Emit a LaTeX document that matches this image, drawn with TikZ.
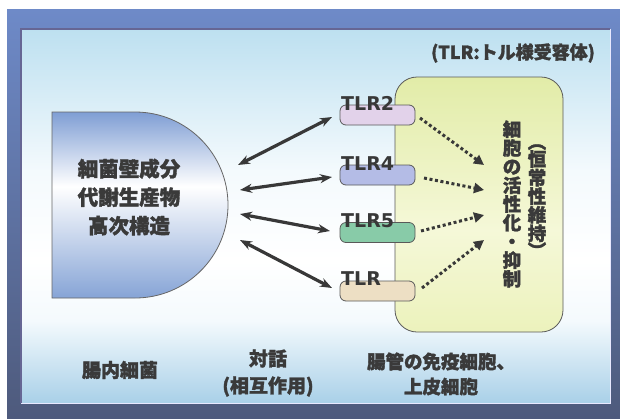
\documentclass[tikz,border=0pt]{standalone}
\usepackage{fontspec}
\setmainfont{Noto Sans CJK JP}[BoldFeatures={FakeBold=1.6}]
\newfontfamily\tlrfont{DejaVu Sans}
\usetikzlibrary{arrows.meta}
\definecolor{frameTop}{HTML}{6E8AC8}
\definecolor{frameBot}{HTML}{4E5A7C}
\definecolor{panelTop}{HTML}{BDE0F0}
\definecolor{panelMid}{HTML}{F4FAFD}
\definecolor{panelBot}{HTML}{A9D0E8}
\definecolor{dTop}{HTML}{7F9ED4}
\definecolor{dBot}{HTML}{86A4D6}
\definecolor{txt}{HTML}{3A3A3A}
\definecolor{boxTop}{HTML}{E2ECA8}
\definecolor{boxMid}{HTML}{F5F8D8}
\definecolor{boxBot}{HTML}{ECF2BC}
\definecolor{pillA}{HTML}{E2D2EA}
\definecolor{pillB}{HTML}{B4BCE6}
\definecolor{pillC}{HTML}{88CBA8}
\definecolor{pillD}{HTML}{EDDFC4}
\pgfdeclareverticalshading{panelshade}{100bp}{color(0bp)=(panelBot); color(25bp)=(panelBot); color(36bp)=(panelMid); color(44bp)=(white); color(56bp)=(panelMid); color(75bp)=(panelTop); color(100bp)=(panelTop)}
\pgfdeclareverticalshading{dshade}{100bp}{color(0bp)=(dBot); color(25bp)=(dBot); color(55bp)=(white); color(75bp)=(dTop); color(100bp)=(dTop)}
\pgfdeclareverticalshading{boxshade}{100bp}{color(0bp)=(boxBot); color(25bp)=(boxBot); color(45bp)=(boxMid); color(75bp)=(boxTop); color(100bp)=(boxTop)}
\tikzset{
  jp/.style={text=txt, font=\bfseries\fontsize{#1}{#1}\selectfont, inner sep=0pt},
  pill/.style={draw=black!65, line width=0.8pt, rounded corners=6pt, minimum width=75pt, minimum height=20pt, inner sep=0pt},
  tlrlabel/.style={text=black!78, font=\tlrfont\bfseries\fontsize{19}{19}\selectfont, inner sep=0pt, anchor=base west},
  duplex/.style={draw=black!78, line width=3.2pt, {Stealth[length=12pt,width=9pt]}-{Stealth[length=12pt,width=9pt]}},
  dotarrow/.style={draw=black!78, line width=3pt, dash pattern=on 3pt off 2.6pt, -{Triangle[length=10pt,width=10pt]}}
}
\begin{document}
\begin{tikzpicture}[x=1pt,y=-1pt]
\useasboundingbox (0,0) rectangle (620,418);
\fill[white] (0,0) rectangle (620,418);
% outer frame
\shade[top color=frameTop, bottom color=frameBot] (7,9) rectangle (620,418);
% inner panel
\shade[shading=panelshade] (21,29) rectangle (610,403);
\draw[line width=1.6pt, color=black!70!blue!60] (21,403) -- (21,29) -- (610,29);
\draw[line width=0.8pt, color=white!70!blue!30] (610,29) -- (610,403) -- (21,403);
% D shape (bacteria)
\shade[shading=dshade, draw=black!60, line width=0.8pt] (52,112) -- (135,112) .. controls (186.4,112) and (228,153.6) .. (228,205) .. controls (228,256.4) and (186.4,298) .. (135,298) -- (52,298) -- cycle;
\node[jp=20, align=center, font=\bfseries\fontsize{20.5}{28.5}\selectfont] (btext) at (129,197) {細菌壁成分\\代謝生産物\\高次構造};
% cell box
\shade[shading=boxshade, draw=black!65, line width=0.8pt, rounded corners=22pt] (395,77) rectangle (563,332);
\node[jp=18] (note) at (513,53) {(TLR:トル様受容体)};
% receptors
\node[pill, fill=pillA] (p2) at (377.5,115) {};
\node[pill, fill=pillB] (p4) at (377.5,175) {};
\node[pill, fill=pillC] (p5) at (377.5,232.5) {};
\node[pill, fill=pillD] (p0) at (377.5,291) {};
\node[tlrlabel] (l2) at (341,110) {TLR2};
\node[tlrlabel] (l4) at (341,170) {TLR4};
\node[tlrlabel] (l5) at (341,227) {TLR5};
\node[tlrlabel] (l0) at (341,285) {TLR};
% arrow ends
\coordinate (a1l) at (238,165); \coordinate (a1r) at (332,117);
\coordinate (a2l) at (240,190); \coordinate (a2r) at (332,177);
\coordinate (a3l) at (240,214); \coordinate (a3r) at (330,231);
\coordinate (a4l) at (240,240); \coordinate (a4r) at (332,288);
\draw[duplex] (a1l) -- (a1r);
\draw[duplex] (a2l) -- (a2r);
\draw[duplex] (a3l) -- (a3r);
\draw[duplex] (a4l) -- (a4r);
\coordinate (d1s) at (420,118); \coordinate (d1e) at (484,165);
\coordinate (d2s) at (424,178); \coordinate (d2e) at (484,190);
\coordinate (d3s) at (421,231); \coordinate (d3e) at (484,215);
\coordinate (d4s) at (422,288); \coordinate (d4e) at (484,240);
\draw[dotarrow] (d1s) -- (d1e);
\draw[dotarrow] (d2s) -- (d2e);
\draw[dotarrow] (d3s) -- (d3e);
\draw[dotarrow] (d4s) -- (d4e);
% vertical text
\node[jp=18, align=center, font=\bfseries\fontsize{18.5}{18.7}\selectfont] (vt1) at (512,204) {細\\胞\\の\\活\\性\\化\\・\\抑\\制};
\node[jp=18, align=center, font=\bfseries\fontsize{18.5}{17.4}\selectfont] (vt2) at (537,201) {︵\\恒\\常\\性\\維\\持\\︶};
% bottom labels
\node[jp=19] (lb1) at (120,370) {腸内細菌};
\node[jp=19, align=center, font=\bfseries\fontsize{19}{27}\selectfont] (lb2) at (268,373) {対話\\(相互作用)};
\node[jp=18.5, align=center, font=\bfseries\fontsize{18.5}{25}\selectfont] (lb3) at (441,374) {腸管の免疫細胞、\\上皮細胞};
\end{tikzpicture}
\end{document}
